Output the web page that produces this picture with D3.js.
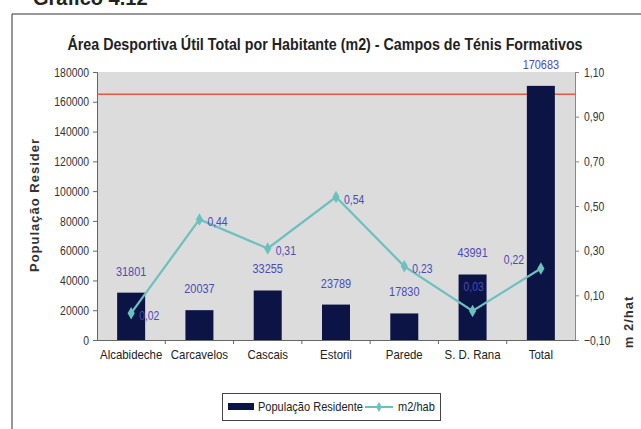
<!DOCTYPE html>
<html><head><meta charset="utf-8">
<script src="https://cdn.jsdelivr.net/npm/d3@7"></script>
<style>
body{margin:0;background:#fff;}
svg{display:block;}
text{font-family:"Liberation Sans",Arial,sans-serif;}
</style></head>
<body>
<svg id="c" width="641" height="429"></svg>
<script>
const categories = ["Alcabideche","Carcavelos","Cascais","Estoril","Parede","S. D. Rana","Total"];
const population = [31801,20037,33255,23789,17830,43991,170683];
const m2hab = [0.02,0.44,0.31,0.54,0.23,0.03,0.22];
const leftTicks = [0,20000,40000,60000,80000,100000,120000,140000,160000,180000];
const rightTicks = [-0.10,0.10,0.30,0.50,0.70,0.90,1.10];
const referenceLine = 1.0;
const title = "Área Desportiva Útil Total por Habitante (m2) - Campos de Ténis Formativos";

const svg = d3.select("#c");
const L=97, R=575, T=72, B=340;
const fmt = v => d3.format(".2f")(v).replace(".", ",");

// frame & page heading
svg.append("path").attr("d","M12,429 V14 H641").attr("fill","none").attr("stroke","#333").attr("stroke-width",1);
svg.append("text").attr("x",33).attr("y",5)
  .attr("font-weight","bold").attr("font-size",20).attr("fill","#222").text("Gráfico 4.12");

svg.append("text").attr("class","n").attr("data-r","0.84").attr("x",325).attr("y",50).attr("text-anchor","middle")
  .attr("font-size",17).attr("font-weight","bold").attr("fill","#222").text(title);

// plot area
svg.append("rect").attr("x",L).attr("y",T).attr("width",R-L).attr("height",B-T).attr("fill","#dcdcdc");

const x = d3.scaleBand().domain(categories).range([L,R]).paddingInner(0.59).paddingOuter(0.295);
const xb = d3.scaleBand().domain(categories).range([L,R]);
const yL = d3.scaleLinear().domain([0,180000]).range([B,T]);
const yR = d3.scaleLinear().domain([-0.10,1.10]).range([B,T]);

// axes
const gl = svg.append("g").attr("transform",`translate(${L},0)`)
  .call(d3.axisLeft(yL).tickValues(leftTicks).tickFormat(d3.format("d")).tickSize(4).tickPadding(4));
gl.selectAll("text").attr("class","n").attr("font-size",13).attr("fill","#333");
gl.selectAll("line,path").attr("stroke","#666");

const gr = svg.append("g").attr("transform",`translate(${R},0)`)
  .call(d3.axisRight(yR).tickValues(rightTicks).tickFormat(fmt).tickSize(4).tickPadding(5));
gr.selectAll("text").attr("class","n").attr("font-size",13).attr("fill","#333");
gr.selectAll("line,path").attr("stroke","#888");

const gb = svg.append("g").attr("transform",`translate(0,${B})`)
  .call(d3.axisBottom(xb).tickSize(0).tickPadding(10));
gb.selectAll("text").attr("class","n").attr("data-r","0.88").attr("font-size",13).attr("fill","#222");
gb.select("path").attr("stroke","#666");
svg.append("g").selectAll("line").data(categories.slice(1)).join("line")
  .attr("x1",d=>xb(d)).attr("x2",d=>xb(d)).attr("y1",B).attr("y2",B+4).attr("stroke","#666");

// axis titles
svg.append("text").attr("transform","translate(39,205) rotate(-90)").attr("text-anchor","middle")
  .attr("font-weight","bold").attr("font-size",13)
  .attr("letter-spacing",1).attr("fill","#333").text("População Resider");
svg.append("text").attr("transform","translate(633,322) rotate(-90)").attr("text-anchor","middle")
  .attr("font-weight","bold").attr("font-size",13)
  .attr("letter-spacing",1).attr("fill","#333").text("m 2/hat");

// reference line
svg.append("line").attr("x1",L).attr("x2",R).attr("y1",yR(referenceLine)).attr("y2",yR(referenceLine))
  .attr("stroke","#e8583a").attr("stroke-width",1.5);

// bars
svg.append("g").selectAll("rect").data(population).join("rect")
  .attr("x",(d,i)=>x(categories[i])).attr("width",x.bandwidth())
  .attr("y",d=>yL(d)).attr("height",d=>B-yL(d)).attr("fill","#0c1446");

// bar labels
svg.append("g").selectAll("text").data(population).join("text").attr("class","n").attr("data-r","0.84")
  .attr("x",(d,i)=>x(categories[i])+x.bandwidth()/2).attr("y",d=>yL(d)-17)
  .attr("text-anchor","middle").attr("font-size",13).attr("fill","#4a4ab8").text(d=>d);

// line
const cx = i => xb(categories[i])+xb.bandwidth()/2;
const line = d3.line().x((d,i)=>cx(i)).y(d=>yR(d));
svg.append("path").datum(m2hab).attr("d",line).attr("fill","none").attr("stroke","#6cc0be").attr("stroke-width",2.2);
svg.append("g").selectAll("path").data(m2hab).join("path")
  .attr("transform",(d,i)=>`translate(${cx(i)},${yR(d)})`)
  .attr("d",d3.symbol(d3.symbolDiamond,45)).attr("fill","#6cc0be");

// line labels
const off = i => i===6 ? [-37,-10] : i===5 ? [-9,-25] : [8,2];
svg.append("g").selectAll("text").data(m2hab).join("text").attr("class","n")
  .attr("x",(d,i)=>cx(i)+off(i)[0]).attr("y",(d,i)=>yR(d)+off(i)[1]+5)
  .attr("font-size",13).attr("fill","#4a4ab8").text(d=>fmt(d));

// legend
const lg = svg.append("g");
lg.append("rect").attr("x",222.5).attr("y",393.5).attr("width",218).attr("height",27).attr("fill","#fff").attr("stroke","#444");
lg.append("rect").attr("x",228).attr("y",403).attr("width",26).attr("height",7).attr("fill","#0c1446");
lg.append("text").attr("class","n").attr("data-r","0.85").attr("x",258).attr("y",411).attr("font-size",13).attr("fill","#222").text("População Residente");
lg.append("line").attr("x1",365).attr("x2",393).attr("y1",407).attr("y2",407).attr("stroke","#6cc0be").attr("stroke-width",2);
lg.append("path").attr("transform","translate(379,407)").attr("d",d3.symbol(d3.symbolDiamond,30)).attr("fill","#6cc0be");
lg.append("text").attr("class","n").attr("data-r","0.85").attr("x",398).attr("y",411).attr("font-size",13).attr("fill","#222").text("m2/hab");

// narrow (condensed) rendering of Arial-Narrow-like texts: horizontal scale about the anchor point
svg.selectAll("text.n").each(function(){
  const r = +(this.getAttribute("data-r") || 0.8);
  const tx = +(this.getAttribute("x") || 0), ty = +(this.getAttribute("y") || 0);
  const prev = this.getAttribute("transform") || "";
  d3.select(this).attr("transform", `${prev} translate(${tx},${ty}) scale(${r},1) translate(${-tx},${-ty})`);
});
</script>
</body></html>
